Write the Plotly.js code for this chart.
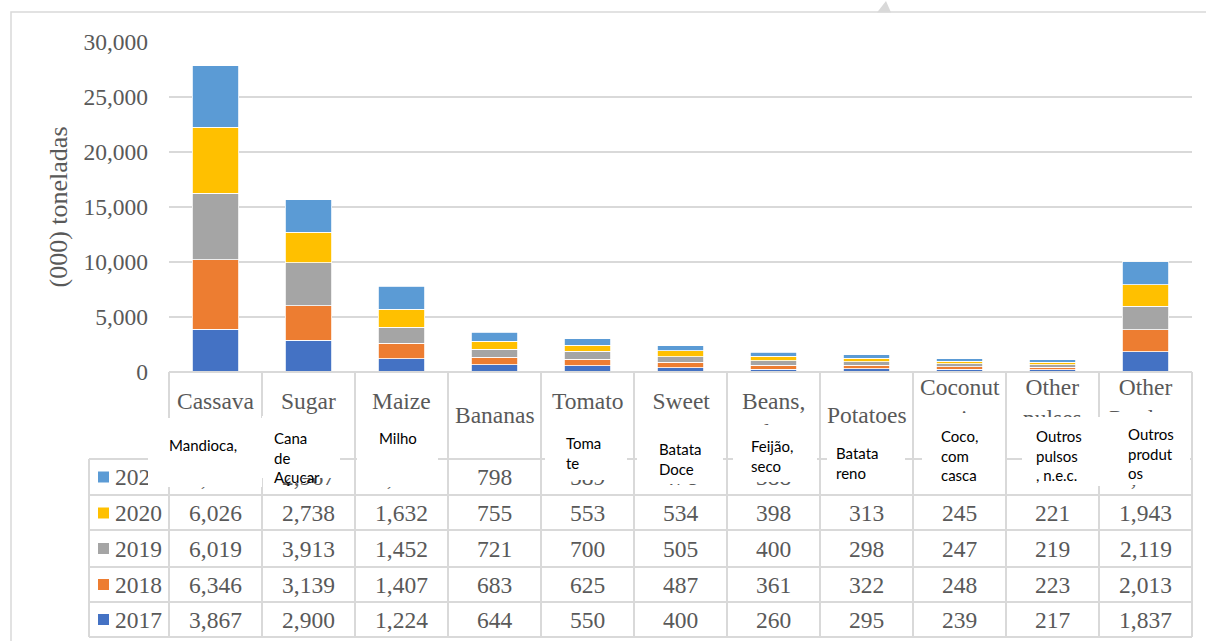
<!DOCTYPE html>
<html><head><meta charset="utf-8">
<script src="https://cdn.plot.ly/plotly-3.0.1.min.js"></script>
<style>html,body{margin:0;padding:0;background:#fff}#chart{width:1206px;height:641px}</style>
</head><body><div id="chart"></div>
<script>
// ---- data ----
const categories = ['Cassava','Sugar','Maize','Bananas','Tomato','Sweet potatoes','Beans, dry','Potatoes','Coconuts','Other pulses','Other Products'];
const headerLabels = ['Cassava<br>fresh','Sugar<br>cane','Maize<br>(corn)','Bananas','Tomato<br>es','Sweet<br>potatoes','Beans,<br>dry','Potatoes','Coconut<br>s, in<br>shell','Other<br>pulses<br>n.e.c.','Other<br>Product<br>s'];
const ptLabels = ['Mandioca,','Cana<br>de<br>Açucar','Milho','','Toma<br>te','Batata<br>Doce','Feijão,<br>seco','Batata<br>reno','Coco,<br>com<br>casca','Outros<br>pulsos<br>, n.e.c.','Outros<br>produt<br>os'];
const years = ['2017','2018','2019','2020','2021'];
const v2017 = [3867, 2900, 1224, 644, 550, 400, 260, 295, 239, 217, 1837];
const v2018 = [6346, 3139, 1407, 683, 625, 487, 361, 322, 248, 223, 2013];
const v2019 = [6019, 3913, 1452, 721, 700, 505, 400, 298, 247, 219, 2119];
const v2020 = [6026, 2738, 1632, 755, 553, 534, 398, 313, 245, 221, 1943];
const v2021 = [5596, 2967, 2100, 798, 589, 478, 388, 340, 248, 230, 2130];
const yTickVals = [0, 5000, 10000, 15000, 20000, 25000, 30000];

// ---- styling / layout helpers ----
const series = [v2017, v2018, v2019, v2020, v2021];
const colors = ['#4472C4', '#ED7D31', '#A5A5A5', '#FFC000', '#5B9BD5'];
const GRAY = '#595959', LINE = '#D9D9D9';
const SERIF = '"Liberation Serif", "Times New Roman", serif';
const SANS = 'Lato, Carlito, Calibri, sans-serif';
const FS = 23.5;
const PL = 169, PR = 1192, PT = 42, PB = 372;
const px = X => (X - PL) / (PR - PL);
const py = Y => (PB - Y) / (PB - PT);
const fmt = v => v.toLocaleString('en-US');

const traces = series.map((vals, i) => ({
  type: 'bar', name: years[i], x: categories, y: vals,
  marker: {color: colors[i], line: {color: '#ffffff', width: 0.8}},
  hoverinfo: 'skip'
}));

// table geometry (pixels)
const rowLines = [459, 495, 530, 567, 602, 637];
const rowOrder = [4, 3, 2, 1, 0]; // 2021 at top ... 2017 bottom
const rowCenters = [477, 513, 548.5, 584.5, 619.5];

const shapes = [];
shapes.push({type: 'rect', xref: 'paper', yref: 'paper', x0: px(11), x1: px(1230), y0: py(12), y1: py(700), line: {color: LINE, width: 1.5}, fillcolor: 'rgba(0,0,0,0)', layer: 'below'});
shapes.push({type: 'path', xref: 'paper', yref: 'paper', path: `M ${px(877)} ${py(12.5)} L ${px(886)} ${py(1)} L ${px(891)} ${py(12.5)} Z`, fillcolor: LINE, line: {width: 0}});
shapes.push({type: 'line', xref: 'paper', yref: 'paper', x0: px(PL), x1: px(PR), y0: py(PB), y1: py(PB), line: {color: LINE, width: 2}});
rowLines.forEach(Y => shapes.push({type: 'line', xref: 'paper', yref: 'paper', x0: px(89), x1: px(PR), y0: py(Y), y1: py(Y), line: {color: LINE, width: 2}}));
shapes.push({type: 'line', xref: 'paper', yref: 'paper', x0: px(89), x1: px(89), y0: py(459), y1: py(637), line: {color: LINE, width: 2}});
for (let i = 0; i <= categories.length; i++) {
  const X = PL + i * (PR - PL) / categories.length;
  shapes.push({type: 'line', xref: 'paper', yref: 'paper', x0: px(X), x1: px(X), y0: py(PB), y1: py(637), line: {color: LINE, width: 2}});
}
rowOrder.forEach((si, r) => {
  shapes.push({type: 'rect', xref: 'paper', yref: 'paper', x0: px(98), x1: px(109), y0: py(rowCenters[r] - 5.5), y1: py(rowCenters[r] + 5.5), fillcolor: colors[si], line: {width: 0}});
});

const annotations = [];
categories.forEach((c, i) => {
  const n = headerLabels[i].split('<br>').length;
  annotations.push({xref: 'x', yref: 'paper', x: c, y: py(415 + (n - 1) * 1.3), text: headerLabels[i], showarrow: false, xanchor: 'center', yanchor: 'middle', align: 'center', font: {family: SERIF, size: FS, color: GRAY}});
});
rowOrder.forEach((si, r) => {
  categories.forEach((c, i) => annotations.push({xref: 'x', yref: 'paper', x: c, y: py(rowCenters[r]), text: fmt(series[si][i]), showarrow: false, xanchor: 'center', yanchor: 'middle', font: {family: SERIF, size: FS, color: GRAY}}));
  annotations.push({xref: 'paper', yref: 'paper', x: px(113), y: py(rowCenters[r]), text: years[si], showarrow: false, xanchor: 'left', yanchor: 'middle', font: {family: SERIF, size: FS, color: GRAY}});
});
const boxes = [
  {L: 148, T: 418, R: 262, B: 487, tx: 168, ty: 445},
  {L: 262, T: 416, R: 340, B: 478, tx: 273, ty: 457},
  {L: 357, T: 418, R: 438, B: 487, tx: 378, ty: 438},
  null,
  {L: 545, T: 413, R: 627, B: 480, tx: 565, ty: 453},
  {L: 637, T: 426, R: 723, B: 484, tx: 658, ty: 459},
  {L: 733, T: 425, R: 817, B: 482, tx: 750, ty: 456},
  {L: 827, T: 432, R: 905, B: 486, tx: 835, ty: 463},
  {L: 922, T: 413, R: 1005, B: 485, tx: 940, ty: 455},
  {L: 1022, T: 417, R: 1105, B: 486, tx: 1035, ty: 456},
  {L: 1105, T: 412, R: 1190, B: 485, tx: 1127, ty: 453}
];
boxes.forEach(b => {
  if (!b) return;
  annotations.push({xref: 'paper', yref: 'paper', x: px((b.L + b.R) / 2), y: py((b.T + b.B) / 2), xanchor: 'center', yanchor: 'middle', width: b.R - b.L, height: b.B - b.T, text: ' ', showarrow: false, bgcolor: '#ffffff', borderpad: 0, borderwidth: 0});
});
boxes.forEach((b, i) => {
  if (!b) return;
  annotations.push({xref: 'paper', yref: 'paper', x: px(b.tx), y: py(b.ty), xanchor: 'left', yanchor: 'middle', align: 'left', text: ptLabels[i], showarrow: false, borderpad: 0, font: {family: SANS, size: 15, color: '#000000'}});
});

const layout = {
  width: 1206, height: 641,
  margin: {l: PL, r: 1206 - PR, t: PT, b: 641 - PB, pad: 0},
  paper_bgcolor: '#ffffff', plot_bgcolor: '#ffffff',
  barmode: 'stack', bargap: 0.5,
  showlegend: false,
  xaxis: {type: 'category', range: [-0.5, categories.length - 0.5], showticklabels: false, showgrid: false, zeroline: false, showline: false, ticks: '', fixedrange: true},
  yaxis: {range: [0, 30000], tickvals: yTickVals, tickformat: ',d', showgrid: true, gridcolor: LINE, gridwidth: 1.5, zeroline: false, showline: false, ticks: '', ticklabelstandoff: 20,
    tickfont: {family: SERIF, size: FS, color: GRAY},
    title: {text: '(000) toneladas', font: {family: SERIF, size: 26, color: GRAY}, standoff: 8}},
  shapes: shapes, annotations: annotations
};
Plotly.newPlot('chart', traces, layout, {displayModeBar: false, staticPlot: true});
</script></body></html>
